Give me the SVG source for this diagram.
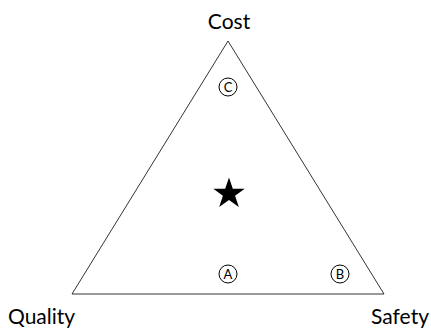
<svg xmlns="http://www.w3.org/2000/svg" width="431" height="333" viewBox="0 0 431 333">
<style>
.lbl{font-family:Lato,"Open Sans",sans-serif;font-size:21px;fill:#000}
.ct{font-family:Lato,"Open Sans",sans-serif;font-size:13px;fill:#000;text-anchor:middle}
.cc{fill:none;stroke:#000;stroke-width:1}
</style>
<rect width="431" height="333" fill="#fff"/>
<g id="triangle"><polygon points="228,41 72,294 384,294" fill="none" stroke="#000" stroke-width="0.8"/></g>
<g id="cost"><text class="lbl" x="229" y="29" text-anchor="middle">Cost</text></g>
<g id="quality"><text class="lbl" x="8" y="324">Quality</text></g>
<g id="safety"><text class="lbl" x="429" y="324" text-anchor="end">Safety</text></g>
<g id="c"><circle class="cc" cx="228" cy="87" r="9"/><text class="ct" x="228" y="91.6">C</text></g>
<g id="a"><circle class="cc" cx="228" cy="274" r="9"/><text class="ct" x="228" y="278.6">A</text></g>
<g id="b"><circle class="cc" cx="340" cy="274" r="9"/><text class="ct" x="340" y="278.6">B</text></g>
<g id="star"><polygon fill="#000" points="229,177.5 232.8,188.8 244.7,188.8 235.1,195.8 238.8,207.1 229,200.1 219.2,207.1 222.9,195.8 213.3,188.8 225.2,188.8"/></g>
</svg>
